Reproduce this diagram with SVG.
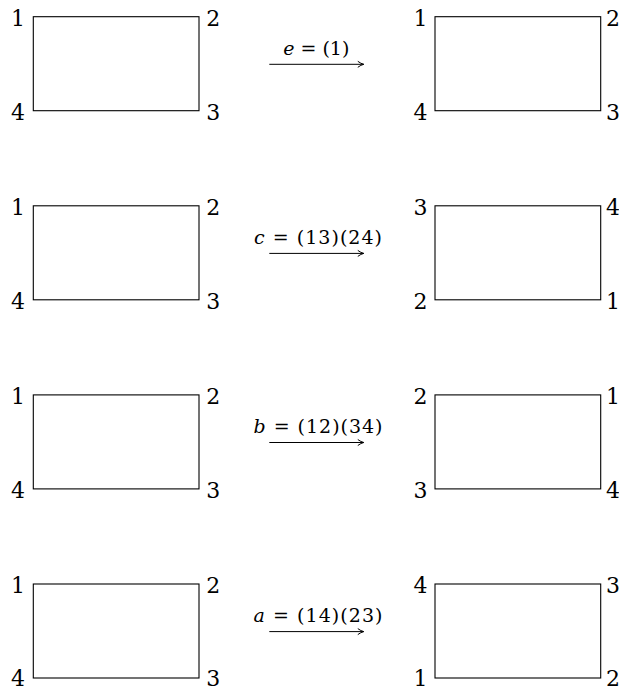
<svg xmlns="http://www.w3.org/2000/svg" width="619" height="688" viewBox="0 0 619 688">
<style>
.box{fill:none;stroke:#000;stroke-width:1.1}
.n{font-family:"DejaVu Serif","Liberation Serif",serif;font-size:22px;fill:#000;text-anchor:middle}
.lbl{font-family:"DejaVu Serif","Liberation Serif",serif;font-size:19px;fill:#000;text-anchor:middle}
.it{font-style:italic}
.arr{fill:none;stroke:#000;stroke-width:1}
</style>
<defs>
<g id="arrow">
<path class="arr" d="M269.3,0 H363.5"/>
<path class="arr" d="M357.8,-3 Q361,-0.6 363.8,0 Q361,0.6 357.8,3"/>
</g>
</defs>

<!-- Row 1: e -->
<g id="row1-left">
<rect class="box" x="33.3" y="16.7" width="165.7" height="94"/>
<text class="n" x="18" y="25.8">1</text>
<text class="n" x="213.3" y="25.8">2</text>
<text class="n" x="213.3" y="120.2">3</text>
<text class="n" x="18" y="120.2">4</text>
</g>
<g id="row1-right">
<rect class="box" x="435" y="16.7" width="165.7" height="94"/>
<text class="n" x="420.5" y="25.8">1</text>
<text class="n" x="613" y="25.8">2</text>
<text class="n" x="613" y="120.2">3</text>
<text class="n" x="420.5" y="120.2">4</text>
</g>

<!-- Row 2: c -->
<g id="row2-left">
<rect class="box" x="33.3" y="205.8" width="165.7" height="94"/>
<text class="n" x="18" y="214.9">1</text>
<text class="n" x="213.3" y="214.9">2</text>
<text class="n" x="213.3" y="309.3">3</text>
<text class="n" x="18" y="309.3">4</text>
</g>
<g id="row2-right">
<rect class="box" x="435" y="205.8" width="165.7" height="94"/>
<text class="n" x="420.5" y="214.9">3</text>
<text class="n" x="613" y="214.9">4</text>
<text class="n" x="613" y="309.3">1</text>
<text class="n" x="420.5" y="309.3">2</text>
</g>

<!-- Row 3: b -->
<g id="row3-left">
<rect class="box" x="33.3" y="394.9" width="165.7" height="94"/>
<text class="n" x="18" y="404">1</text>
<text class="n" x="213.3" y="404">2</text>
<text class="n" x="213.3" y="498.4">3</text>
<text class="n" x="18" y="498.4">4</text>
</g>
<g id="row3-right">
<rect class="box" x="435" y="394.9" width="165.7" height="94"/>
<text class="n" x="420.5" y="404">2</text>
<text class="n" x="613" y="404">1</text>
<text class="n" x="613" y="498.4">4</text>
<text class="n" x="420.5" y="498.4">3</text>
</g>

<!-- Row 4: a -->
<g id="row4-left">
<rect class="box" x="33.3" y="584" width="165.7" height="94"/>
<text class="n" x="18" y="593.1">1</text>
<text class="n" x="213.3" y="593.1">2</text>
<text class="n" x="213.3" y="685.6">3</text>
<text class="n" x="18" y="685.6">4</text>
</g>
<g id="row4-right">
<rect class="box" x="435" y="584" width="165.7" height="94"/>
<text class="n" x="420.5" y="593.1">4</text>
<text class="n" x="613" y="593.1">3</text>
<text class="n" x="613" y="685.6">2</text>
<text class="n" x="420.5" y="685.6">1</text>
</g>

<g id="connectors">
<use href="#arrow" y="64.3"/>
<use href="#arrow" y="253.4"/>
<use href="#arrow" y="442.5"/>
<use href="#arrow" y="631.6"/>
<text class="lbl" x="316.3" y="55"><tspan class="it">e</tspan> = (1)</text>
<text class="lbl" x="318" y="244.1" textLength="128" lengthAdjust="spacing"><tspan class="it">c</tspan> = (13)(24)</text>
<text class="lbl" x="318" y="433.2" textLength="129" lengthAdjust="spacing"><tspan class="it">b</tspan> = (12)(34)</text>
<text class="lbl" x="318" y="622.3" textLength="129" lengthAdjust="spacing"><tspan class="it">a</tspan> = (14)(23)</text>
</g>
</svg>
